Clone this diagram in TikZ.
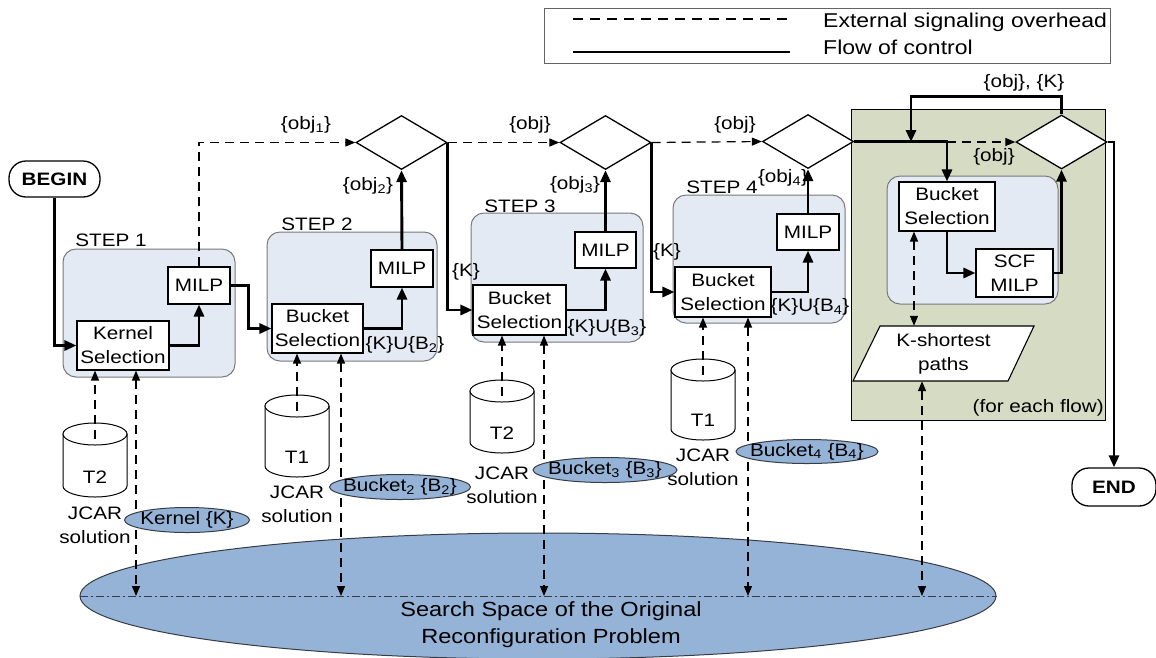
\documentclass[tikz,border=0pt]{standalone}
\usepackage{fontspec}
\setmainfont{Liberation Sans}[FakeStretch=1.15]
\usetikzlibrary{arrows.meta,shapes.geometric}

\definecolor{stepfill}{RGB}{228,234,243}
\definecolor{stepedge}{RGB}{120,120,120}
\definecolor{flowfill}{RGB}{214,220,196}
\definecolor{setfill}{RGB}{149,179,215}
\definecolor{setedge}{RGB}{55,60,70}
\definecolor{legendedge}{RGB}{100,100,100}

\pgfdeclarelayer{fg}
\pgfsetlayers{main,fg}

\tikzset{
  sigtip/.tip={Triangle[length=10pt,width=8pt]},
  ctrltip/.tip={Triangle[length=12pt,width=10pt]},
}

% database drum: name, centre x, top y, bottom y, label
\newcommand\drum[5]{%
  \draw[line width=1pt, fill=white] (#2-32,#3+11) -- (#2-32,#4-11)
    arc[start angle=180, end angle=0, x radius=32, y radius=11] -- (#2+32,#3+11) -- cycle;
  \draw[line width=1pt, fill=white] (#2,#3+11) ellipse[x radius=32, y radius=11];
  \coordinate (#1) at (#2,#3+16);
  \node[txt] (#1lab) at (#2,#4-20) {#5};
}

\begin{document}
\begin{tikzpicture}[x=1pt,y=-1pt,
  txt/.style={font=\fontsize{18}{24}\selectfont, inner sep=0pt, align=center},
  big/.style={font=\fontsize{20}{27}\selectfont, inner sep=0pt, align=center},
  proc/.style={draw, fill=white, line width=1.1pt, inner sep=0pt, align=center,
               font=\fontsize{18}{24}\selectfont},
  stepbox/.style={draw=stepedge, fill=stepfill, line width=1pt, rounded corners=13pt, inner sep=0pt},
  decide/.style={diamond, draw, line width=1.3pt, fill=white, minimum width=91pt,
                 minimum height=54pt, inner sep=0pt, aspect=1.68},
  term/.style={draw, line width=1.3pt, fill=white, rounded corners=17pt, inner sep=0pt,
               font=\bfseries\fontsize{18}{24}\selectfont},
  ctrl/.style={line width=2.9pt, -ctrltip},
  sig/.style={line width=1.2pt, dash pattern=on 9pt off 6pt, -sigtip},
  sigboth/.style={line width=1.2pt, dash pattern=on 9pt off 6pt, sigtip-sigtip},
  setell/.style={ellipse, draw=setedge, fill=setfill, line width=1pt, inner sep=0pt},
]
\fill[white] (0,0) rectangle (1156,657);
\useasboundingbox (0,0) rectangle (1156,657);

% ---------- legend ----------
\node[draw=legendedge, line width=1pt, minimum width=566pt, minimum height=55pt, inner sep=0pt]
  (legend) at (827,35.5) {};
\draw[line width=1.1pt, dash pattern=on 10pt off 7pt] (573,19) -- (790,19);
\draw[line width=2.9pt] (573,52) -- (790,52);
\node[big, anchor=west] (legsig) at (823,22) {External signaling overhead};
\node[big, anchor=west] (legctl) at (823,47) {Flow of control};

% ---------- per-flow block ----------
\node[draw, line width=1pt, fill=flowfill, minimum width=254pt, minimum height=311pt, inner sep=0pt]
  (flow) at (978,264.5) {};
\node[txt, anchor=east] (flowlab) at (1104,408) {(for each flow)};

% ---------- step frames ----------
\node[stepbox, minimum width=172pt, minimum height=128pt] (st1) at (149,313) {};
\node[stepbox, minimum width=170pt, minimum height=129pt] (st2) at (352,296.5) {};
\node[stepbox, minimum width=172pt, minimum height=129pt] (st3) at (557,277.5) {};
\node[stepbox, minimum width=172pt, minimum height=128pt] (st4) at (759,259) {};
\node[stepbox, minimum width=171pt, minimum height=128pt] (st5) at (972.5,240) {};
\node[txt] (st1lab) at (111,240) {STEP 1};
\node[txt] (st2lab) at (317,224) {STEP 2};
\node[txt] (st3lab) at (520,206) {STEP 3};
\node[txt] (st4lab) at (722,187) {STEP 4};

% ---------- search space ----------
\node[setell, minimum width=916pt, minimum height=126pt] (space) at (538,596) {};
\draw[line width=0.9pt, color=setedge, dash pattern=on 8pt off 3pt on 2pt off 3pt]
  (space.west) -- (space.east);
\node[big, font=\fontsize{20.5}{27}\selectfont] (spacelab) at (551,624.5)
  {Search Space of the Original\\Reconfiguration Problem};

% ---------- terminals ----------
\node[term, minimum width=91pt, minimum height=36pt] (begin) at (54.5,179) {BEGIN};
\node[term, minimum width=84pt, minimum height=38pt] (end) at (1114,487) {END};

% ---------- processes ----------
\node[proc, minimum width=92pt, minimum height=49pt] (kernel) at (123,345.5) {Kernel\\Selection};
\node[proc, minimum width=62pt, minimum height=37pt] (milp1) at (199,285.5) {MILP};
\node[proc, minimum width=91pt, minimum height=49pt] (bucket2) at (317.5,328.5) {Bucket\\Selection};
\node[proc, minimum width=62pt, minimum height=37pt] (milp2) at (402,268.5) {MILP};
\node[proc, minimum width=93pt, minimum height=50pt] (bucket3) at (519.5,310) {Bucket\\Selection};
\node[proc, minimum width=61pt, minimum height=36pt] (milp3) at (605.5,250) {MILP};
\node[proc, minimum width=96pt, minimum height=50pt] (bucket4) at (723,292) {Bucket\\Selection};
\node[proc, minimum width=62pt, minimum height=36pt] (milp4) at (808,232) {MILP};
\node[proc, minimum width=96pt, minimum height=49pt] (ib) at (947,206.5) {Bucket\\Selection};
\node[proc, minimum width=77pt, minimum height=48pt] (scf) at (1014.5,273) {SCF\\MILP};

% K-shortest paths (data parallelogram)
\draw[line width=1.1pt, fill=white] (880,326) -- (1034,326) -- (1008,381) -- (853,381) -- cycle;
\node[txt, minimum width=125pt, minimum height=55pt] (ksp) at (943.5,353.5) {K-shortest\\paths};

% ---------- decisions ----------
\node[decide] (d1) at (401.5,142.5) {};
\node[decide] (d2) at (605.5,142.5) {};
\node[decide] (d3) at (808,141.5) {};
\node[decide] (d4) at (1061.5,142) {};

% ---------- databases ----------
\drum{c1}{95}{423}{497}{T2}
\drum{c2}{297}{395}{477}{T1}
\drum{c3}{502}{380}{453}{T2}
\drum{c4}{703}{359}{440}{T1}
\node[txt] (c1sol) at (95,525.5) {JCAR\\solution};
\node[txt] (c2sol) at (297,504) {JCAR\\solution};
\node[txt] (c3sol) at (502,485) {JCAR\\solution};
\node[txt] (c4sol) at (703,467) {JCAR\\solution};

% ---------- flow of control ----------
\draw[ctrl] (begin.south) |- (kernel.west);
\draw[ctrl] (kernel.east) -| (milp1.south);
\draw[ctrl] (milp1.east) -- ++(18,0) |- (bucket2.west);
\draw[ctrl] (bucket2.east) -| (milp2.south);
\draw[ctrl] (milp2.north) -- (d1.south);
\draw[ctrl] (d1.east) |- (bucket3.west);
\draw[ctrl] (bucket3.east) -| (milp3.south);
\draw[ctrl] (milp3.north) -- (d2.south);
\draw[ctrl] (d2.east) |- (bucket4.west);
\draw[ctrl] (bucket4.east) -| (milp4.south);
\draw[ctrl] (milp4.north) -- (d3.south);
\draw[ctrl] (d3.east) -| (ib.north);
\draw[ctrl] (ib.south) |- (scf.west);
\draw[ctrl] (scf.east) -| (d4.south);
\coordinate (fb) at (911,142);
\draw[ctrl] (d4.north) -- ++(0,-18) -| (fb);
\draw[ctrl] (d4.east) -| (end.north);

% ---------- signaling ----------
\coordinate (junc) at (ib.north |- d4.west);
\draw[sig] (milp1.north) |- (d1.west);
\draw[sig] (d1.east) -- (d2.west);
\draw[sig] (d2.east) -- (d3.west);
\draw[sig] (junc) -- (d4.west);

\coordinate (s1) at (136,0);
\coordinate (s2) at (341,0);
\coordinate (s3) at (544,0);
\coordinate (s4) at (748,0);
\coordinate (s5) at (922,0);
\coordinate (s6) at (914,0);
\draw[sig] (c1) -- (c1 |- kernel.south);
\draw[sig] (c2) -- (c2 |- bucket2.south);
\draw[sig] (c3) -- (c3 |- bucket3.south);
\draw[sig] (c4) -- (c4 |- bucket4.south);
\draw[sigboth] (kernel.south -| s1) -- (s1 |- space.center);
\draw[sigboth] (bucket2.south -| s2) -- (s2 |- space.center);
\draw[sigboth] (bucket3.south -| s3) -- (s3 |- space.center);
\draw[sigboth] (bucket4.south -| s4) -- (s4 |- space.center);
\draw[sigboth] (ib.south -| s6) -- (s6 |- ksp.north);
\draw[sigboth] (ksp.south -| s5) -- (s5 |- space.center);

% ---------- labels ----------
\node[txt] (l1) at (306,125) {\{obj\textsubscript{1}\}};
\node[txt] (l2) at (530,125) {\{obj\}};
\node[txt] (l3) at (735,125) {\{obj\}};
\node[txt] (l4) at (994,157) {\{obj\}};
\node[txt] (l5) at (368,186) {\{obj\textsubscript{2}\}};
\node[txt] (l6) at (575,185) {\{obj\textsubscript{3}\}};
\node[txt] (l7) at (783,178) {\{obj\textsubscript{4}\}};
\node[txt] (l8) at (466,272) {\{K\}};
\node[txt] (l9) at (667,252) {\{K\}};
\node[txt] (l10) at (405,345) {\{K\}U\{B\textsubscript{2}\}};
\node[txt] (l11) at (607,328) {\{K\}U\{B\textsubscript{3}\}};
\node[txt] (l12) at (810,307) {\{K\}U\{B\textsubscript{4}\}};
\node[txt] (l13) at (1024,83) {\{obj\}, \{K\}};

% ---------- sets ----------
\begin{pgfonlayer}{fg}
\node[setell, minimum width=125pt, minimum height=25pt] (kset) at (187,520) {};
\node[txt] (ksetlab) at (kset) {Kernel \{K\}};
\node[setell, minimum width=141pt, minimum height=25pt] (b2set) at (400,487) {};
\node[txt] (b2setlab) at (b2set) {Bucket\textsubscript{2} \{B\textsubscript{2}\}};
\node[setell, minimum width=144pt, minimum height=25pt] (b3set) at (605,470) {};
\node[txt] (b3setlab) at (b3set) {Bucket\textsubscript{3} \{B\textsubscript{3}\}};
\node[setell, minimum width=142pt, minimum height=24pt] (b4set) at (807,451.5) {};
\node[txt] (b4setlab) at (b4set) {Bucket\textsubscript{4} \{B\textsubscript{4}\}};
\end{pgfonlayer}
\end{tikzpicture}
\end{document}
